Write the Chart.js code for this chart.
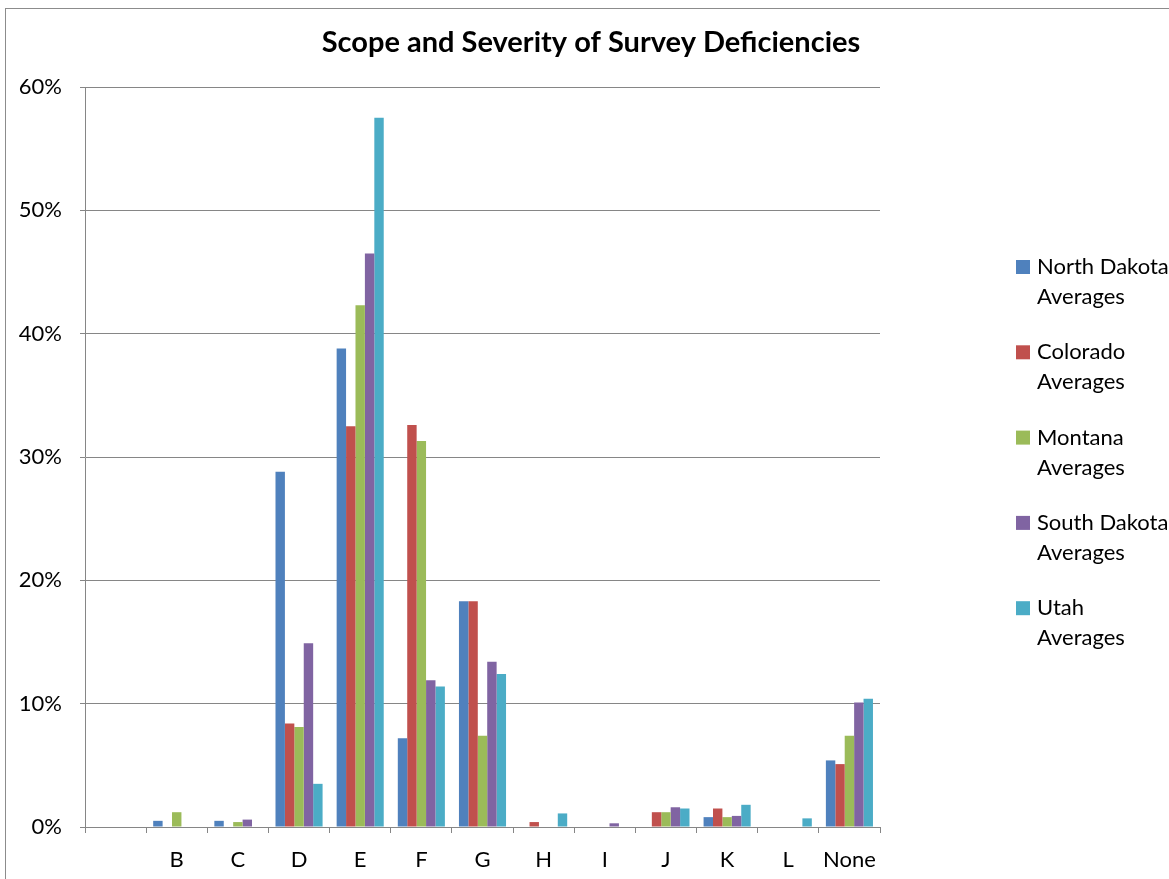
<!DOCTYPE html>
<html>
<head>
<meta charset="utf-8">
<script src="https://cdn.jsdelivr.net/npm/chart.js@4/dist/chart.umd.min.js"></script>
<style>
  html, body { margin: 0; padding: 0; background: #fff; }
  #wrap { position: relative; width: 1169px; height: 879px; overflow: hidden; }
  #frame { position: absolute; left: 5px; top: 8px; right: -2px; bottom: -2px; border: 1px solid #8c8c8c; }
</style>
</head>
<body>
<div id="wrap">
  <div id="frame"></div>
  <canvas id="surveyChart" width="1169" height="879"></canvas>
</div>
<script>
const categories = ['', 'B', 'C', 'D', 'E', 'F', 'G', 'H', 'I', 'J', 'K', 'L', 'None'];
const seriesNames = ['North Dakota Averages', 'Colorado Averages', 'Montana Averages', 'South Dakota Averages', 'Utah Averages'];
const northDakota = [0, 0.5, 0.5, 28.8, 38.8, 7.2, 18.3, 0, 0, 0, 0.8, 0, 5.4];
const colorado    = [0, 0, 0, 8.4, 32.5, 32.6, 18.3, 0.4, 0, 1.2, 1.5, 0, 5.1];
const montana     = [0, 1.2, 0.4, 8.1, 42.3, 31.3, 7.4, 0, 0, 1.2, 0.8, 0, 7.4];
const southDakota = [0, 0, 0.6, 14.9, 46.5, 11.9, 13.4, 0, 0.3, 1.6, 0.9, 0, 10.1];
const utah        = [0, 0, 0, 3.5, 57.5, 11.4, 12.4, 1.1, 0, 1.5, 1.8, 0.7, 10.4];
const yTicks = [0, 10, 20, 30, 40, 50, 60];

const colors = ['#4f81bd', '#c0504d', '#9bbb59', '#8064a2', '#4bacc6'];
const allSeries = [northDakota, colorado, montana, southDakota, utah];
const FONT = 'Lato, "Open Sans", sans-serif';

// title + two-line legend drawn by hand
const extras = {
    id: 'extras',
    afterDraw(chart) {
        const ctx = chart.ctx;
        ctx.save();
        ctx.fillStyle = '#000';
        ctx.font = 'bold 29px ' + FONT;
        ctx.textAlign = 'center';
        ctx.textBaseline = 'middle';
        ctx.fillText('Scope and Severity of Survey Deficiencies', 591, 43);

        ctx.font = '22px ' + FONT;
        ctx.textAlign = 'left';
        chart.data.datasets.forEach((ds, i) => {
            const y = 267 + i * 85.3;
            const parts = ds.label.split(' ');
            const last = parts.pop();
            ctx.fillStyle = ds.backgroundColor;
            ctx.fillRect(1016, y - 7, 14, 14);
            ctx.fillStyle = '#000';
            ctx.fillText(parts.join(' '), 1037, y);
            ctx.fillText(last, 1037, y + 30);
        });
        ctx.restore();
    }
};

const surveyChart = new Chart(document.getElementById('surveyChart'), {
    type: 'bar',
    data: {
        labels: categories,
        datasets: allSeries.map((vals, i) => ({
            label: seriesNames[i],
            data: vals,
            backgroundColor: colors[i],
            borderWidth: 0,
            categoryPercentage: 0.77,
            barPercentage: 1.0
        }))
    },
    options: {
        responsive: false,
        animation: false,
        layout: { padding: { left: 0, top: 87, right: 289, bottom: 0 } },
        plugins: {
            legend: { display: false },
            title: { display: false },
            tooltip: { enabled: false }
        },
        scales: {
            x: {
                afterFit: (s) => { s.height = 52; },
                grid: { offset: true, drawOnChartArea: false, drawTicks: true, tickLength: 6, color: '#868686' },
                border: { color: '#868686', width: 1 },
                ticks: { color: '#000', font: { family: FONT, size: 22 }, padding: 14, maxRotation: 0 }
            },
            y: {
                min: 0,
                max: 60,
                afterFit: (s) => { s.width = 85; },
                afterBuildTicks: (s) => { s.ticks = yTicks.map(v => ({ value: v })); },
                grid: { color: '#868686', tickLength: 5 },
                border: { color: '#868686', width: 1 },
                ticks: { color: '#000', font: { family: FONT, size: 22 }, padding: 18, callback: (v) => v + '%' }
            }
        }
    },
    plugins: [extras]
});
</script>
</body>
</html>
